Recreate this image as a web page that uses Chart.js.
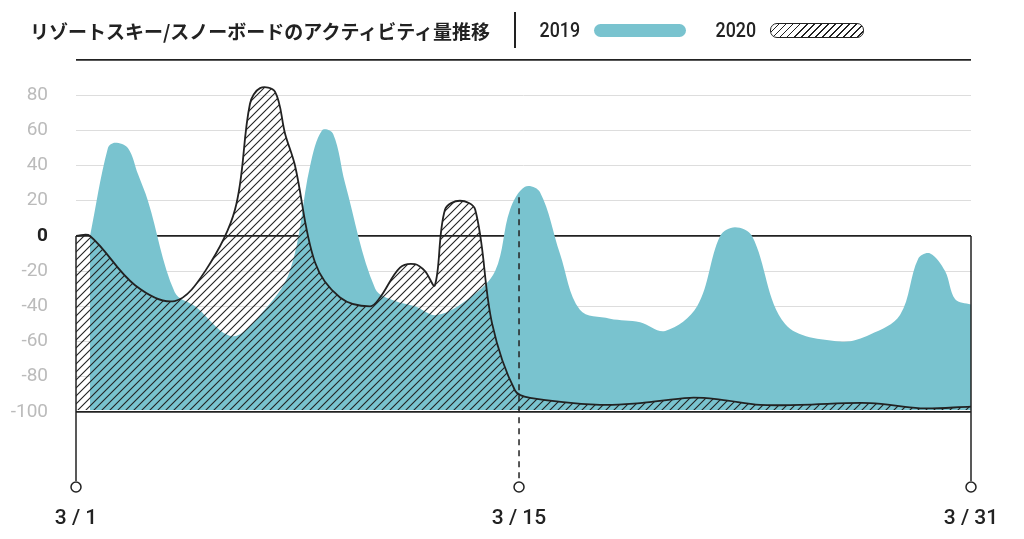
<!DOCTYPE html>
<html><head><meta charset="utf-8">
<script src="https://cdn.jsdelivr.net/npm/chart.js@4/dist/chart.umd.min.js"></script>
<style>
body{margin:0;background:#fff;font-family:"Noto Sans CJK JP","Noto Sans",sans-serif;}
#wrap{position:relative;width:1024px;height:539px;}
#hdr{position:absolute;left:30px;top:12px;height:36px;display:flex;align-items:center;font-size:19px;font-weight:bold;color:#222;}
.sep{width:2px;height:36px;background:#222;margin:0 20px 0 24px;}
.lg{font-family:"Roboto",sans-serif;font-weight:500;font-size:21px;margin-right:10px;transform:scaleX(0.85);}
.pill{width:92px;height:13px;border-radius:7px;margin-right:26px;}
.p1{background:#79c3cf;}
.p2{border:1.5px solid #222;background:repeating-linear-gradient(135deg,#222 0 1.2px,#fff 1.2px 5px);}
</style></head><body>
<div id="wrap"><canvas id="c" width="1024" height="539"></canvas>
<div id="hdr">リゾートスキー/スノーボードのアクティビティ量推移<div class="sep"></div><span class="lg">2019</span><div class="pill p1"></div><span class="lg">2020</span><div class="pill p2"></div></div></div>
<script>
// x positions in days since 3/1 (0..30)
const x2019 = [0.47,1.07,1.31,1.74,2.08,2.41,3.31,3.99,5.23,6.17,7.17,7.85,8.25,8.62,9.02,10.03,10.70,11.36,12.10,13.21,14.05,14.55,15.05,15.55,16.22,16.89,17.90,18.91,19.75,20.82,21.59,22.09,22.66,23.77,25.61,26.62,27.62,28.23,28.63,29.13,29.47,30];
const v2019 = [0,50,53,50,35,20,-32,-40,-57,-45,-20,40,60,58,30,-30,-37,-40,-45,-35,-20,15,28,25,-10,-42,-47,-49,-54,-40,0,5,0,-50,-60,-56,-45,-13,-10,-20,-36,-39];
const x2020 = [0,0.47,1.98,3.31,4.33,5.33,5.83,6.17,6.67,7.01,7.34,8.01,8.85,9.86,10.19,10.86,11.36,11.70,12.03,12.37,12.87,13.38,13.95,14.72,15.22,17.56,18.91,20.58,21.59,22.93,24.27,26.62,28.30,30];
const v2020 = [0,0,-28,-37,-20,15,75,84,82,58,40,-15,-35,-40,-35,-18,-16,-20,-28,15,20,15,-50,-88,-92,-96,-95,-92,-93,-96,-96,-95,-98,-97];
const yTicks = [100,80,60,40,20,0,-20,-40,-60,-80,-100];
const dateLabels = [{x:0,t:"3 / 1"},{x:14.85,t:"3 / 15"},{x:30,t:"3 / 31"}];

const pc=document.createElement('canvas');pc.width=8;pc.height=8;
const g=pc.getContext('2d');g.strokeStyle='#222';g.lineWidth=1.1;
g.beginPath();g.moveTo(0,8);g.lineTo(8,0);g.moveTo(-4,4);g.lineTo(4,-4);g.moveTo(4,12);g.lineTo(12,4);g.stroke();
const hatch=document.getElementById('c').getContext('2d').createPattern(pc,'repeat');

const deco={id:'deco',afterDraw(ch){
 const c=ch.ctx,xs=ch.scales.x,ys=ch.scales.y;
 const y0=ys.getPixelForValue(0),yb=ch.chartArea.bottom;
 c.save();c.strokeStyle='#222';c.lineWidth=1.5;
 for(const d of dateLabels){
  const px=xs.getPixelForValue(d.x);
  c.setLineDash(d.x===14.85?[6,5]:[]);
  c.beginPath();c.moveTo(px,d.x===14.85?ys.getPixelForValue(22):y0);c.lineTo(px,yb-6);c.stroke();
  c.setLineDash([]);c.fillStyle='#fff';c.beginPath();c.arc(px,yb,5,0,Math.PI*2);c.fill();c.stroke();
  c.fillStyle='#222';c.font='500 21px Roboto';c.textAlign='center';c.textBaseline='middle';
  c.fillText(d.t,px,yb+32);
 }
 c.restore();}};

new Chart(document.getElementById('c'),{type:'line',
 data:{datasets:[
  {data:x2019.map((x,i)=>({x,y:v2019[i]})),borderWidth:0,pointRadius:0,backgroundColor:'#79c3cf',fill:{value:-99},tension:0.35,order:2},
  {data:x2020.map((x,i)=>({x,y:v2020[i]})),borderColor:'#222',borderWidth:1.8,pointRadius:0,backgroundColor:hatch,fill:{value:-99},tension:0.35,order:1}]},
 options:{responsive:false,animation:false,layout:{padding:{top:60,right:53,bottom:52,left:0}},
  plugins:{legend:{display:false},tooltip:{enabled:false}},
  scales:{x:{type:'linear',min:0,max:30,display:false},
   y:{min:-142.7,max:100,afterFit(s){s.width=76;},
    afterBuildTicks(s){s.ticks=yTicks.map(v=>({value:v}));},
    border:{display:false},
    grid:{drawTicks:false,lineWidth:c=>(c.tick&&(c.tick.value===0||c.tick.value===-100||c.tick.value===100))?1.8:1,
      color:c=>(c.tick&&(c.tick.value===0||c.tick.value===-100||c.tick.value===100))?'#222':'#ddd'},
    ticks:{padding:28,callback:v=>v===100?'':v,
      color:c=>c.tick.value===0?'#222':'#bbb',font:c=>({family:'Roboto',size:19,weight:c.tick&&c.tick.value===0?'bold':'normal'})}}}},
 plugins:[deco]});
</script></body></html>
